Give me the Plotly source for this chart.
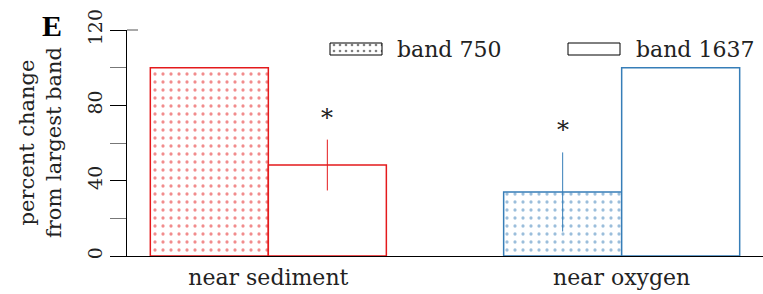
import plotly.graph_objects as go
import math

categories = ["near sediment", "near oxygen"]
band750 = [100, 34]
band1637 = [48.3, 100]
err750 = [math.nan, 21]
err1637 = [13.5, math.nan]
y_ticks = [0, 40, 80, 120]
y_tick_labels = ["0", "40", "80", "120"]

RED = "#e41a1c"
BLUE = "#377eb8"
FONT = "DejaVu Serif"
TXT = "#222222"
BARGAP = 0.332

fig = go.Figure()

fig.add_trace(go.Bar(
    x=categories, y=band750, name="band 750",
    marker=dict(color="white", line=dict(color=[RED, BLUE], width=1.5),
                pattern=dict(shape=".", fgcolor=[RED, BLUE], bgcolor="white",
                             size=8, solidity=0.13, fillmode="overlay")),
    error_y=dict(type="data", array=err750, color=BLUE, thickness=1, width=0, visible=True),
    showlegend=False,
))
fig.add_trace(go.Bar(
    x=categories, y=band1637, name="band 1637",
    marker=dict(color="white", line=dict(color=[RED, BLUE], width=1.5)),
    error_y=dict(type="data", array=err1637, color=RED, thickness=1, width=0, visible=True),
    showlegend=False,
))

# custom legend swatches on an overlay axis spanning the plot area (0..1)
def px_x(p):
    return (p - 127) / 636
def px_y(p):
    return (256 - p) / 226

lx0, lx1, ly0, ly1 = px_x(330), px_x(382), px_y(55), px_y(43)
fig.add_trace(go.Scatter(
    x=[lx0, lx1, lx1, lx0, lx0], y=[ly0, ly0, ly1, ly1, ly0],
    xaxis="x2", yaxis="y2", mode="lines", fill="toself",
    line=dict(color="black", width=1), fillcolor="white",
    fillpattern=dict(shape=".", fgcolor="black", bgcolor="white", size=6, solidity=0.15),
    showlegend=False, hoverinfo="skip",
))
fig.add_shape(type="rect", xref="paper", yref="paper",
              x0=px_x(568), x1=px_x(620), y0=px_y(55), y1=px_y(43),
              line=dict(color="black", width=1), fillcolor="white")

# asterisks above error bars
bar_off = (1 - BARGAP) / 4  # offset of a bar centre from its category centre
star_x = [categories[0], categories[1]]
star_y = [band1637[0] + err1637[0], band750[1] + err750[1]]
star_dir = [1, -1]
unit_px = 636 / 1.8
for cx, cy, d in zip(star_x, star_y, star_dir):
    fig.add_annotation(x=cx, y=cy, xref="x", yref="y", text="*", showarrow=False,
                       xshift=d * bar_off * unit_px, yshift=22, yanchor="middle",
                       font=dict(family=FONT, size=24, color=TXT))

fig.add_annotation(x=px_x(395), y=px_y(49), xref="paper", yref="paper", text="band 750",
                   showarrow=False, xanchor="left", yanchor="middle",
                   font=dict(family=FONT, size=22, color=TXT))
fig.add_annotation(x=px_x(634), y=px_y(49), xref="paper", yref="paper", text="band 1637",
                   showarrow=False, xanchor="left", yanchor="middle",
                   font=dict(family=FONT, size=22, color=TXT))

# y axis title
fig.add_annotation(x=px_x(40), y=0.5, xref="paper", yref="paper",
                   text="percent change<br>from largest band", textangle=-90,
                   showarrow=False, xanchor="center", yanchor="middle",
                   font=dict(family=FONT, size=21, color=TXT))
# panel label
fig.add_annotation(x=px_x(52), y=px_y(26), xref="paper", yref="paper",
                   text="<b>E</b>", showarrow=False, xanchor="center", yanchor="middle",
                   font=dict(family="Liberation Serif", size=30, color="black"))

# small top stub
fig.add_shape(type="line", xref="paper", yref="paper", x0=0, x1=px_x(138), y0=1, y1=1,
              line=dict(color="#555555", width=1))

fig.update_layout(
    width=763, height=294,
    margin=dict(l=127, r=0, t=30, b=38),
    paper_bgcolor="white", plot_bgcolor="white",
    barmode="group", bargap=BARGAP, bargroupgap=0,
    font=dict(family=FONT, color=TXT),
    xaxis=dict(type="category", range=[-0.4, 1.4], showline=True, linecolor="black",
               linewidth=1, ticks="", showgrid=False, zeroline=False,
               ticklabelstandoff=2,
               tickfont=dict(family=FONT, size=22, color=TXT)),
    yaxis=dict(range=[0, 120], tickvals=y_ticks, ticktext=y_tick_labels, tickangle=-90,
               showline=True, linecolor="black", linewidth=1, ticks="outside",
               ticklen=16, tickcolor="black", showgrid=False, zeroline=False,
               tickfont=dict(family=FONT, size=19, color=TXT),
               minor=dict(dtick=20, ticks="outside", ticklen=16, tickcolor="#777777")),
    xaxis2=dict(overlaying="x", range=[0, 1], visible=False),
    yaxis2=dict(overlaying="y", range=[0, 1], visible=False),
)

fig.write_html("out.html", config={"displayModeBar": False},
               post_script="document.body.style.margin='0';")
